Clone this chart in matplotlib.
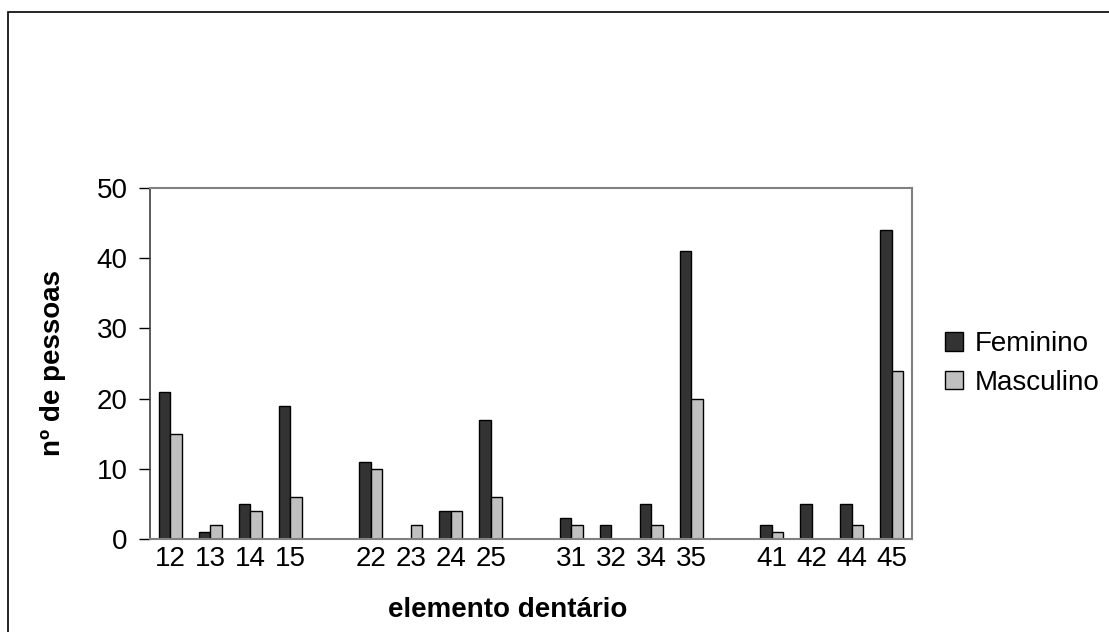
import matplotlib.pyplot as plt
from matplotlib.patches import Rectangle
import numpy as np

plt.rcParams['font.family'] = ['Liberation Sans', 'DejaVu Sans']

# empty strings are the gaps between the tooth groups
teeth = ['12', '13', '14', '15', '', '22', '23', '24', '25', '',
         '31', '32', '34', '35', '', '41', '42', '44', '45']
feminino = [21, 1, 5, 19, 0, 11, 0, 4, 17, 0, 3, 2, 5, 41, 0, 2, 5, 5, 44]
masculino = [15, 2, 4, 6, 0, 10, 2, 4, 6, 0, 2, 0, 2, 20, 0, 1, 0, 2, 24]

col_f = '#333333'
col_m = '#c0c0c0'
fs = 20

fig = plt.figure(figsize=(11.09, 6.32), dpi=100)
# outer chart frame (runs off the right and bottom)
fig.patches.append(Rectangle((8 / 1109, -0.01), 1.1, 1 - 12 / 632 + 0.01,
                             transform=fig.transFigure, fill=False,
                             edgecolor='black', linewidth=1.2))

ax = fig.add_axes([150 / 1109, 1 - 539 / 632, (912 - 150) / 1109, (539 - 188) / 632])

x = np.arange(len(teeth))
w = 1 / 3.5
f_vals = np.array(feminino, dtype=float)
m_vals = np.array(masculino, dtype=float)
ax.bar(x - w / 2, f_vals, w, color=col_f, edgecolor='black', linewidth=1,
       label='Feminino')
ax.bar(x + w / 2, m_vals, w, color=col_m, edgecolor='black', linewidth=1,
       label='Masculino')

ax.set_xlim(-0.5, len(teeth) - 0.5)
ax.set_ylim(0, 50)
ax.set_yticks([0, 10, 20, 30, 40, 50])
ax.set_xticks(x)
ax.set_xticklabels(teeth)
ax.tick_params(axis='x', length=0, labelsize=fs, pad=5)
ax.tick_params(axis='y', length=8, width=1, labelsize=fs, pad=8, direction='out')

for side in ['top', 'right', 'bottom']:
    ax.spines[side].set_color('#808080')
    ax.spines[side].set_linewidth(1.5)
ax.spines['left'].set_color('#404040')
ax.spines['left'].set_linewidth(1.2)

ax.set_xlabel('elemento dentário', fontsize=fs, fontweight='bold')
ax.xaxis.set_label_coords(0.47, -0.165)
ax.set_ylabel('nº de pessoas', fontsize=fs, fontweight='bold', labelpad=22)

ax.legend(loc='center left', bbox_to_anchor=(1.01, 0.5), frameon=False,
          fontsize=fs, handlelength=0.65, handleheight=0.65, handletextpad=0.45,
          labelspacing=0.45)

fig.savefig('out.png', dpi=100)
